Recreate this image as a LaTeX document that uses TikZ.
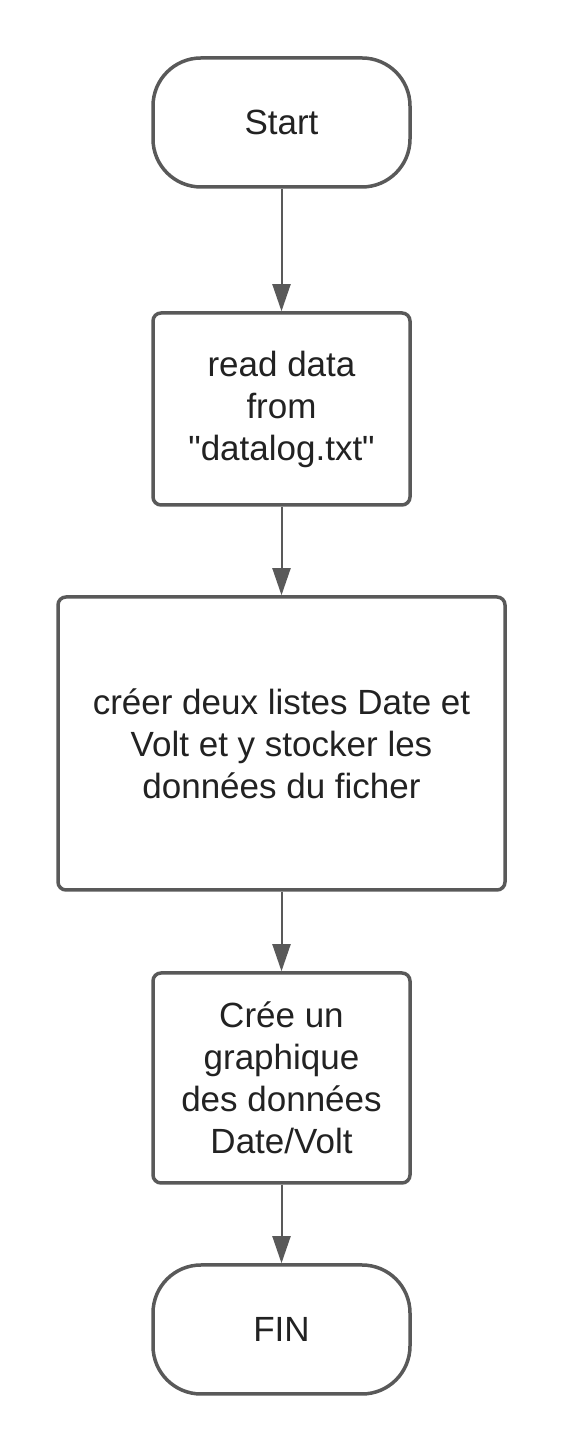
\documentclass[tikz,border=0pt]{standalone}
\usepackage{fontspec}
\setmainfont{Liberation Sans}[Ligatures=TeXOff]
\usepackage{tikz}
\usetikzlibrary{arrows.meta}

\begin{document}
\begin{tikzpicture}[x=1pt,y=1pt]

% Couleurs
\definecolor{colBord}{HTML}{595959}
\definecolor{colTexte}{HTML}{222222}

% Styles
\tikzset{
  terminal/.style={draw=colBord, line width=3.5pt, fill=white, rounded corners=48pt,
    minimum width=257pt, minimum height=129pt, align=center, text=colTexte,
    font=\fontsize{35}{42}\selectfont},
  process/.style={draw=colBord, line width=3.5pt, fill=white, rounded corners=8pt,
    minimum width=257pt, align=center, text=colTexte,
    font=\fontsize{35}{42}\selectfont},
  fleche/.style={draw=colBord, line width=2pt, -{Triangle[length=27pt,width=18pt]}}
}

% Cadre de la page
\useasboundingbox (0,0) rectangle (560,1448);

% Noeuds
\node[terminal] (start) at (281.5,1325.5) {Start};
\node[process, minimum height=192pt] (lire) at (281.5,1039) {read data\\from\\"datalog.txt"};
\node[process, minimum width=447pt, minimum height=293pt] (listes) at (281.5,704.5)
  {créer deux listes Date et\\Volt et y stocker les\\données du ficher};
\node[process, minimum height=210pt] (graphe) at (281.5,370) {Crée un\\graphique\\des données\\Date/Volt};
\node[terminal] (fin) at (281.5,118.5) {FIN};

% Fleches
\draw[fleche] (start) -- (lire);
\draw[fleche] (lire) -- (listes);
\draw[fleche] (listes) -- (graphe);
\draw[fleche] (graphe) -- (fin);

\end{tikzpicture}
\end{document}
